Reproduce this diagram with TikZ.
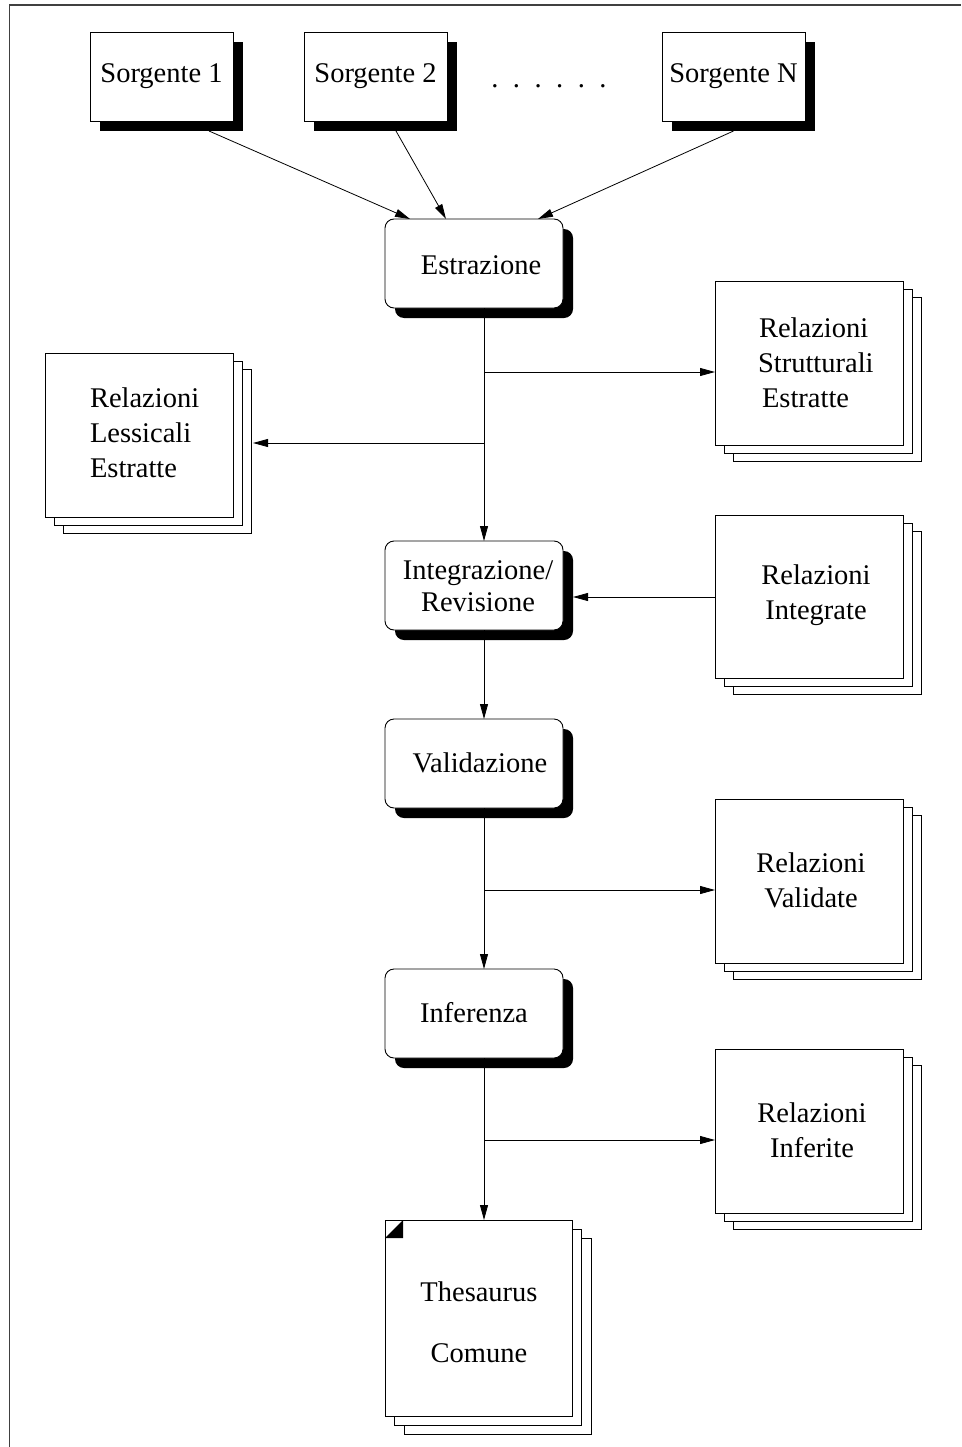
\documentclass[tikz,border=0pt]{standalone}
\usepackage{fontspec}
\setmainfont{Liberation Serif}
\usetikzlibrary{arrows.meta,shadows}
\begin{document}
\begin{tikzpicture}[x=1pt,y=-1pt,
  font=\fontsize{28.5}{35}\selectfont,
  every node/.style={inner sep=0pt, outer sep=0pt},
  boxline/.style={draw=black, line width=0.9pt, fill=white},
  source/.style={boxline, minimum width=143pt, minimum height=89pt,
    drop shadow={shadow xshift=10pt, shadow yshift=-10pt, fill=black, opacity=1}},
  process/.style={boxline, rounded corners=9pt, minimum width=178pt, minimum height=89pt,
    drop shadow={shadow xshift=10pt, shadow yshift=-10pt, fill=black, opacity=1}},
  docstack/.style={boxline, minimum width=188pt, minimum height=163.5pt,
    copy shadow={shadow xshift=18pt, shadow yshift=-16pt, boxline},
    copy shadow={shadow xshift=9pt, shadow yshift=-8pt, boxline}},
  thesstack/.style={boxline, minimum width=187pt, minimum height=196pt,
    copy shadow={shadow xshift=19pt, shadow yshift=-18pt, boxline},
    copy shadow={shadow xshift=9.5pt, shadow yshift=-9pt, boxline}},
  txt/.style={align=left},
  ctxt/.style={align=center},
  flow/.style={line width=0.8pt, -{Triangle[length=15pt,width=8pt]}},
]
\useasboundingbox (0,0) rectangle (961,1447);

% page frame
\draw[line width=1.4pt, draw=black!75] (9.5,1447) -- (9.5,5) -- (961,5);

% sources
\node[source] (s1) at (161.5,76.5) {Sorgente 1};
\node[source] (s2) at (375.5,76.5) {Sorgente 2};
\node[source] (sN) at (733.5,76.5) {Sorgente N};
\node (dots) at (549,86) {.\hspace{14.5pt}.\hspace{14.5pt}.\hspace{14.5pt}.\hspace{14.5pt}.\hspace{14.5pt}.};

% process steps
\node[process] (extr)  at (474,263.5) {};
\node (extr-t) at (481,265) {Estrazione};
\node[process] (integ) at (474,585.5) {};
\node[ctxt, font=\fontsize{28.5}{32}\selectfont] (integ-t) at (478,586) {Integrazione/\\Revisione};
\node[process] (valid) at (474,763.5) {};
\node (valid-t) at (480,763) {Validazione};
\node[process] (infer) at (474,1013.5) {};
\node (infer-t) at (474,1013) {Inferenza};

% document stacks
\node[docstack, minimum height=164pt] (lex) at (139,435) {};
\node[txt, anchor=west] (lex-t) at (90,433) {Relazioni\\Lessicali\\Estratte};
\node[docstack] (struct) at (809,363.5) {};
\node[txt, anchor=west] (struct-t) at (759,362.5) {Relazioni\\\hspace*{-1pt}Strutturali\\\hspace*{3pt}Estratte};
\node[docstack] (intrel) at (809,597) {};
\node[ctxt] (intrel-t) at (816,595) {Relazioni\\Integrate};
\node[docstack] (valrel) at (809,881.5) {};
\node[ctxt] (valrel-t) at (811,880) {Relazioni\\Validate};
\node[docstack] (infrel) at (809,1131.5) {};
\node[ctxt] (infrel-t) at (812,1130) {Relazioni\\Inferite};
\node[thesstack] (thes) at (478.5,1318) {};
\fill[black] ([shift={(18,0)}]thes.north west) -- ([shift={(18,18)}]thes.north west)
  -- ([shift={(0,18)}]thes.north west) -- cycle;
\node[ctxt] (thes-t) at (479,1322.5) {Thesaurus\\[26pt]Comune};

% helper points
\coordinate (spine) at (484,0);
\coordinate (b1) at (484,372);
\coordinate (b2) at (484,443);
\coordinate (b3) at (484,890);
\coordinate (b4) at (484,1140);
\coordinate (lexedge) at ([xshift=20pt]lex.east);
\coordinate (integedge) at ([xshift=10pt]integ.east);

% connectors
\draw[flow] ([shift={(47.5,10)}]s1.south) -- ([xshift=-64pt]extr.north);
\draw[flow] ([shift={(20.5,10)}]s2.south) -- ([xshift=-28pt]extr.north);
\draw[flow] ([shift={(0,10)}]sN.south) -- ([xshift=64pt]extr.north);

\draw[flow] (extr.south -| spine) -- (integ.north -| spine);
\draw[flow] (b1) -- (b1 -| struct.west);
\draw[flow] (b2) -- (b2 -| lexedge);
\draw[flow] (intrel.west) -- (intrel.west -| integedge);
\draw[flow] (integ.south -| spine) -- (valid.north -| spine);
\draw[flow] (valid.south -| spine) -- (infer.north -| spine);
\draw[flow] (b3) -- (b3 -| valrel.west);
\draw[flow] (infer.south -| spine) -- (thes.north -| spine);
\draw[flow] (b4) -- (b4 -| infrel.west);
\end{tikzpicture}
\end{document}
